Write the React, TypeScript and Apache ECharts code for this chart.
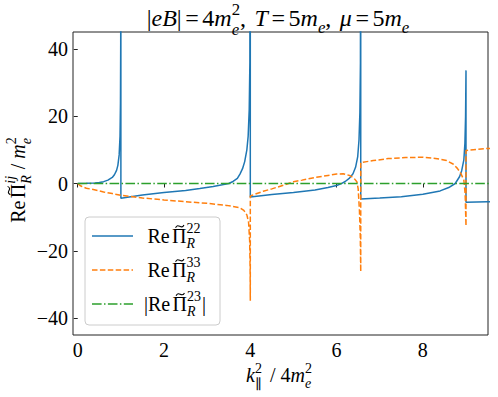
import React, { useEffect, useRef } from "react";
import * as echarts from "echarts";

// Re Pi^22 (blue, solid)
const pi22K = [0, 0.2, 0.4, 0.5, 0.6, 0.7, 0.8, 0.85, 0.9, 0.93, 0.96, 0.98, 0.99, 0.996, 1.0,
  1.0, 1.5, 2.0, 2.5, 2.83, 3.14, 3.35, 3.5, 3.6, 3.7, 3.76, 3.82, 3.87, 3.92, 3.95, 3.975, 3.99, 4.0,
  4.0, 4.5, 5.0, 5.5, 5.8, 6.0, 6.1, 6.2, 6.3, 6.38, 6.44, 6.49, 6.52, 6.54, 6.553, 6.56,
  6.56, 7.0, 7.5, 8.0, 8.4, 8.6, 8.75, 8.85, 8.9, 8.95, 8.975, 8.99, 9.0,
  9.0, 9.5, 9.6];
const pi22Re = [0, 0.05, 0.15, 0.3, 0.55, 1.0, 1.8, 2.6, 3.9, 5.4, 8.5, 14, 24, 42, 200,
  -4.4, -3.4, -2.7, -2.1, -1.5, -0.9, -0.4, 0.0, 0.6, 1.5, 2.8, 4.4, 6.5, 10, 14, 22, 36, 200,
  -4.0, -3.3, -2.7, -1.9, -1.2, -0.6, -0.1, 0.6, 1.6, 2.9, 4.8, 8, 13, 21, 36, 200,
  -4.6, -4.3, -3.9, -3.2, -2.2, -1.2, 0.0, 2.0, 3.8, 7, 12, 20, 33.6,
  -5.6, -5.4, -5.4];

// Re Pi^33 (orange, dashed)
const pi33K = [0, 0.05, 0.1, 0.2, 0.36, 0.6, 0.8, 1.0, 1.5, 2.0, 2.5, 3.0, 3.45, 3.6, 3.76, 3.85, 3.92, 3.96, 3.985, 3.995, 4.0,
  4.0, 4.3, 4.5, 4.77, 5.0, 5.2, 5.5, 5.8, 6.0, 6.15, 6.3, 6.4, 6.47, 6.5, 6.53, 6.55, 6.56,
  6.56, 6.7, 6.85, 7.2, 7.6, 8.0, 8.2, 8.4, 8.55, 8.7, 8.8, 8.88, 8.95, 8.98, 9.0,
  9.0, 9.25, 9.5, 9.6];
const pi33Re = [0, -0.6, -0.9, -1.4, -1.8, -2.5, -3.0, -3.5, -4.3, -4.9, -5.4, -5.9, -6.5, -6.8, -7.2, -8.0, -9.3, -11.5, -17, -25, -34.8,
  -3.7, -2.3, -1.6, -0.5, 0.5, 1.0, 1.8, 2.4, 2.8, 2.9, 2.4, 1.6, 0.5, -1.5, -8, -16, -26.2,
  6.2, 6.5, 6.8, 7.4, 7.7, 7.8, 7.6, 7.2, 6.8, 5.8, 4.5, 3.0, 1.0, -3, -12.6,
  9.8, 10.1, 10.4, 10.4];

// |Re Pi^23| (green, dash-dot)
const pi23K = [0, 9.6];
const pi23Re = [0, 0];

const xTicks = [0, 2, 4, 6, 8];
const yTicks = [-40, -20, 0, 20, 40];

const FONT = "Liberation Serif, DejaVu Serif, serif";

type Piece = {
  t: string; s?: number; it?: boolean; dy?: number;
  stack?: boolean; tilde?: boolean; pl?: number; pr?: number;
};

function layout(pieces: Piece[], base: number, align: "left" | "center", z = 0, color = "#000") {
  const ctx = document.createElement("canvas").getContext("2d")!;
  let cursor = 0;
  let prevStart = 0;
  let prevW = 0;
  const texts: { x: number; y: number; size: number; it?: boolean; t: string }[] = [];
  const tildes: { cx: number; cy: number }[] = [];
  for (const p of pieces) {
    if (p.tilde) {
      tildes.push({ cx: prevStart + prevW / 2 + 0.02 * base, cy: -0.8 * base });
      continue;
    }
    const size = base * (p.s ?? 1);
    ctx.font = `${p.it ? "italic " : ""}${size}px Liberation Serif`;
    const w = ctx.measureText(p.t).width;
    let x: number;
    if (p.stack) {
      x = prevStart;
      cursor = Math.max(cursor, x + w + (p.pr ?? 0) * base);
    } else {
      cursor += (p.pl ?? 0) * base;
      x = cursor;
      prevStart = x;
      prevW = w;
      cursor += w + (p.pr ?? 0) * base;
    }
    texts.push({ x, y: (p.dy ?? 0) * base - 0.34 * size, size, it: p.it, t: p.t });
  }
  const off = align === "center" ? -cursor / 2 : 0;
  const els: any[] = texts.map((o) => ({
    type: "text",
    x: o.x + off,
    y: o.y,
    z,
    silent: true,
    style: {
      text: o.t,
      fontSize: o.size,
      fontFamily: FONT,
      fontStyle: o.it ? "italic" : "normal",
      fill: color,
      textAlign: "left",
      textVerticalAlign: "middle",
      align: "left",
      verticalAlign: "middle",
    },
  }));
  for (const t of tildes) {
    const w = 0.42 * base;
    const h = 0.07 * base;
    const cx = t.cx + off;
    els.push({
      type: "bezierCurve",
      z,
      silent: true,
      shape: {
        x1: cx - w / 2, y1: t.cy + h,
        cpx1: cx - w / 6, cpy1: t.cy - h * 3,
        cpx2: cx + w / 6, cpy2: t.cy + h * 3,
        x2: cx + w / 2, y2: t.cy - h,
      },
      style: { stroke: color, lineWidth: 1.1, fill: null },
    });
  }
  return els;
}

const TILDE: Piece = { t: "", tilde: true };
const EQ: Piece = { t: "=", pl: 0.15, pr: 0.15 };
const SUP = -0.47;
const SUB = 0.32;

const titlePieces: Piece[] = [
  { t: "|" }, { t: "eB", it: true }, { t: "|" }, EQ, { t: "4" }, { t: "m", it: true },
  { t: "2", s: 0.7, dy: -0.45 }, { t: "e", it: true, s: 0.7, dy: 0.36, stack: true },
  { t: ", ", pr: 0.1 }, { t: "T", it: true }, EQ, { t: "5" }, { t: "m", it: true },
  { t: "e", it: true, s: 0.7, dy: 0.26 }, { t: ", ", pr: 0.1 }, { t: "μ", it: true }, EQ,
  { t: "5" }, { t: "m", it: true }, { t: "e", it: true, s: 0.7, dy: 0.26 },
];

const yLabelPieces: Piece[] = [
  { t: "Re", pr: 0.12 }, { t: "Π" }, TILDE, { t: "ij", it: true, s: 0.7, dy: SUP },
  { t: "R", it: true, s: 0.7, dy: SUB, stack: true, pr: 0.05 },
  { t: " / " }, { t: "m", it: true }, { t: "2", s: 0.7, dy: -0.42 }, { t: "e", it: true, s: 0.7, dy: SUB, stack: true },
];

const xLabelPieces: Piece[] = [
  { t: "k", it: true }, { t: "2", s: 0.7, dy: -0.42 }, { t: "∥", s: 0.7, dy: 0.38, stack: true, pr: 0.15 },
  { t: " / 4" }, { t: "m", it: true }, { t: "2", s: 0.7, dy: -0.42 }, { t: "e", it: true, s: 0.7, dy: SUB, stack: true },
];

function legendPieces(sup: string, bars: boolean): Piece[] {
  const core: Piece[] = [
    { t: "Re", pr: 0.12 }, { t: "Π" }, TILDE, { t: sup, s: 0.7, dy: SUP },
    { t: "R", it: true, s: 0.7, dy: SUB, stack: true },
  ];
  return bars ? [{ t: "|" }, ...core, { t: "|", pl: 0.05 }] : core;
}

export default function App() {
  const ref = useRef<HTMLDivElement>(null);
  useEffect(() => {
    if (!ref.current) return;
    const chart = echarts.init(ref.current, undefined, { renderer: "svg" });
    const zip = (xs: number[], ys: number[]) => xs.map((x, i) => [x, ys[i]]);
    const legendRows = [
      { y: 236, x: 147.5, color: "#1f77b4", type: "solid" as any, pieces: legendPieces("22", false) },
      { y: 270, x: 147.5, color: "#ff7f0e", type: [5.5, 2.4] as any, pieces: legendPieces("33", false) },
      { y: 304, x: 144, color: "#2ca02c", type: [9.6, 2.4, 1.5, 2.4] as any, pieces: legendPieces("23", true) },
    ];
    const graphic: any[] = [
      { type: "group", x: 278, y: 26.5, children: layout(titlePieces, 24, "center") },
      { type: "group", x: 25, y: 180, rotation: Math.PI / 2, children: layout(yLabelPieces, 20, "center") },
      { type: "group", x: 279, y: 381.5, children: layout(xLabelPieces, 20, "center") },
      {
        type: "rect",
        shape: { x: 85, y: 217, width: 135, height: 108, r: 4 },
        style: { fill: "rgba(255,255,255,0.8)", stroke: "#cccccc", lineWidth: 1 },
        z: 100,
      },
      ...legendRows.flatMap((r) => [
        {
          type: "line",
          shape: { x1: 92, y1: r.y, x2: 133, y2: r.y },
          style: { stroke: r.color, lineWidth: 1.5, lineDash: r.type === "solid" ? null : r.type },
          z: 101,
        },
        { type: "group", x: r.x, y: r.y + 6.3, z: 101, children: layout(r.pieces, 20, "left", 101) },
      ]),
    ];
    chart.setOption({
      animation: false,
      backgroundColor: "#fff",
      grid: { left: 73, right: 10, top: 32, bottom: 62, show: true, borderColor: "#222", borderWidth: 1, backgroundColor: "transparent" },
      xAxis: {
        type: "value",
        min: -0.11,
        max: 9.51,
        splitLine: { show: false },
        axisLine: { show: false },
        axisTick: { show: true, length: 4, lineStyle: { color: "#222" }, customValues: xTicks },
        axisLabel: { customValues: xTicks, fontFamily: FONT, fontSize: 20, color: "#000", margin: 5 },
      },
      yAxis: {
        type: "value",
        min: -45,
        max: 45,
        splitLine: { show: false },
        axisLine: { show: false },
        axisTick: { show: true, length: 4, lineStyle: { color: "#222" }, customValues: yTicks },
        axisLabel: {
          customValues: yTicks,
          fontFamily: FONT,
          fontSize: 20,
          color: "#000",
          margin: 5,
          formatter: (v: number) => String(v).replace("-", "−"),
        },
      },
      graphic,
      series: [
        {
          name: "Re Π̃22",
          type: "line",
          data: zip(pi22K, pi22Re),
          showSymbol: false,
          symbol: "none",
          clip: true,
          lineStyle: { color: "#1f77b4", width: 1.5 },
        },
        {
          name: "Re Π̃33",
          type: "line",
          data: zip(pi33K, pi33Re),
          showSymbol: false,
          symbol: "none",
          clip: true,
          lineStyle: { color: "#ff7f0e", width: 1.5, type: [5.5, 2.4] },
        },
        {
          name: "|Re Π̃23|",
          type: "line",
          data: zip(pi23K, pi23Re),
          showSymbol: false,
          symbol: "none",
          clip: true,
          lineStyle: { color: "#2ca02c", width: 1.5, type: [9.6, 2.4, 1.5, 2.4] },
        },
      ],
    });
    return () => chart.dispose();
  }, []);
  return <div ref={ref} style={{ position: "fixed", left: 0, top: 0, width: 498, height: 397 }} />;
}
